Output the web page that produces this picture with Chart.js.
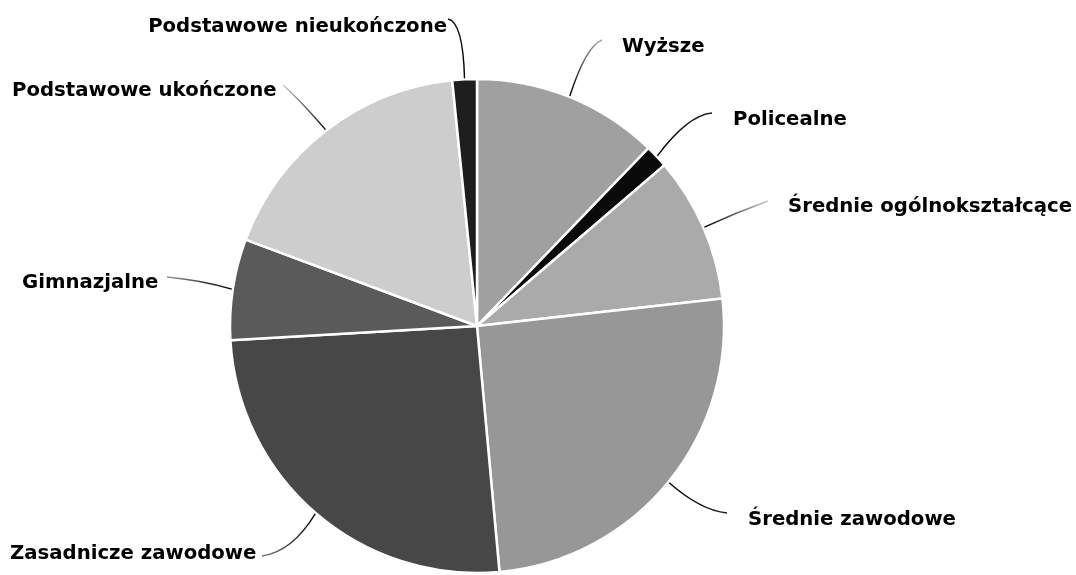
<!DOCTYPE html>
<html lang="pl">
<head>
<meta charset="utf-8">
<title>Wykształcenie</title>
<script src="https://cdn.jsdelivr.net/npm/chart.js@4.4.1/dist/chart.umd.min.js"></script>
<style>
  html, body { margin: 0; padding: 0; background: #fff; }
  #wrap { width: 1076px; height: 575px; position: relative; }
</style>
</head>
<body>
<div id="wrap"><canvas id="eduChart"></canvas></div>
<script>
// poziomy wykształcenia, zgodnie z ruchem wskazówek zegara od godziny 12
const categories = ['Wyższe', 'Policealne', 'Średnie ogólnokształcące', 'Średnie zawodowe',
    'Zasadnicze zawodowe', 'Gimnazjalne', 'Podstawowe ukończone', 'Podstawowe nieukończone'];
const shares = [12.2, 1.5, 9.5, 25.3, 25.5, 6.6, 17.7, 1.6];
const sliceColors = ['#a0a0a0', '#0a0a0a', '#aaaaaa', '#979797', '#474747', '#5a5a5a', '#cdcdcd', '#1e1e1e'];

// podpisy: pozycja tekstu, koniec odnośnika, punkt kontrolny krzywej, kolor wygaszenia
const labelLayout = [
    { x: 622, y: 52,  align: 'left',  end: [602, 40],  ctrl: [586, 46],  fade: '#aaaaaa' },
    { x: 733, y: 125, align: 'left',  end: [712, 113], ctrl: [688, 115], fade: '#222222' },
    { x: 788, y: 212, align: 'left',  end: [768, 201], ctrl: [735, 213], fade: '#cccccc' },
    { x: 748, y: 525, align: 'left',  end: [727, 513], ctrl: [700, 510], fade: '#222222' },
    { x: 10,  y: 559, align: 'left',  end: [262, 556], ctrl: [292, 552], fade: '#777777' },
    { x: 22,  y: 288, align: 'left',  end: [167, 277], ctrl: [200, 280], fade: '#999999' },
    { x: 12,  y: 96,  align: 'left',  end: [283, 85],  ctrl: [300, 100], fade: '#cccccc' },
    { x: 447, y: 32,  align: 'right', end: [448, 19],  ctrl: [463, 22],  fade: '#111111' }
];

// odnośniki i podpisy rysowane po wycinkach
const leaderLabels = {
    id: 'leaderLabels',
    afterDatasetsDraw(chart) {
        const ctx = chart.ctx;
        const arcs = chart.getDatasetMeta(0).data;
        ctx.save();
        arcs.forEach((arc, i) => {
            const L = labelLayout[i];
            const p = arc.getProps(['x', 'y', 'startAngle', 'endAngle', 'outerRadius'], true);
            const mid = (p.startAngle + p.endAngle) / 2;
            const sx = p.x + Math.cos(mid) * (p.outerRadius + 1);
            const sy = p.y + Math.sin(mid) * (p.outerRadius + 1);

            const grad = ctx.createLinearGradient(sx, sy, L.end[0], L.end[1]);
            grad.addColorStop(0, '#000');
            grad.addColorStop(1, L.fade);
            ctx.strokeStyle = grad;
            ctx.lineWidth = 1.4;
            ctx.beginPath();
            ctx.moveTo(sx, sy);
            ctx.quadraticCurveTo(L.ctrl[0], L.ctrl[1], L.end[0], L.end[1]);
            ctx.stroke();

            ctx.fillStyle = '#000';
            ctx.font = 'bold 19.7px "DejaVu Sans"';
            ctx.textAlign = L.align;
            ctx.textBaseline = 'alphabetic';
            ctx.fillText(categories[i], L.x, L.y);
        });
        ctx.restore();
    }
};

new Chart(document.getElementById('eduChart'), {
    type: 'pie',
    data: {
        labels: categories,
        datasets: [{
            data: shares,
            backgroundColor: sliceColors,
            borderColor: '#ffffff',
            borderWidth: 2.5,
            hoverOffset: 0
        }]
    },
    options: {
        responsive: true,
        maintainAspectRatio: false,
        animation: false,
        events: [],
        radius: 247,
        layout: {
            padding: { left: 230, right: 352, top: 79, bottom: 2 }
        },
        plugins: {
            legend: { display: false },
            tooltip: { enabled: false }
        }
    },
    plugins: [leaderLabels]
});
</script>
</body>
</html>
